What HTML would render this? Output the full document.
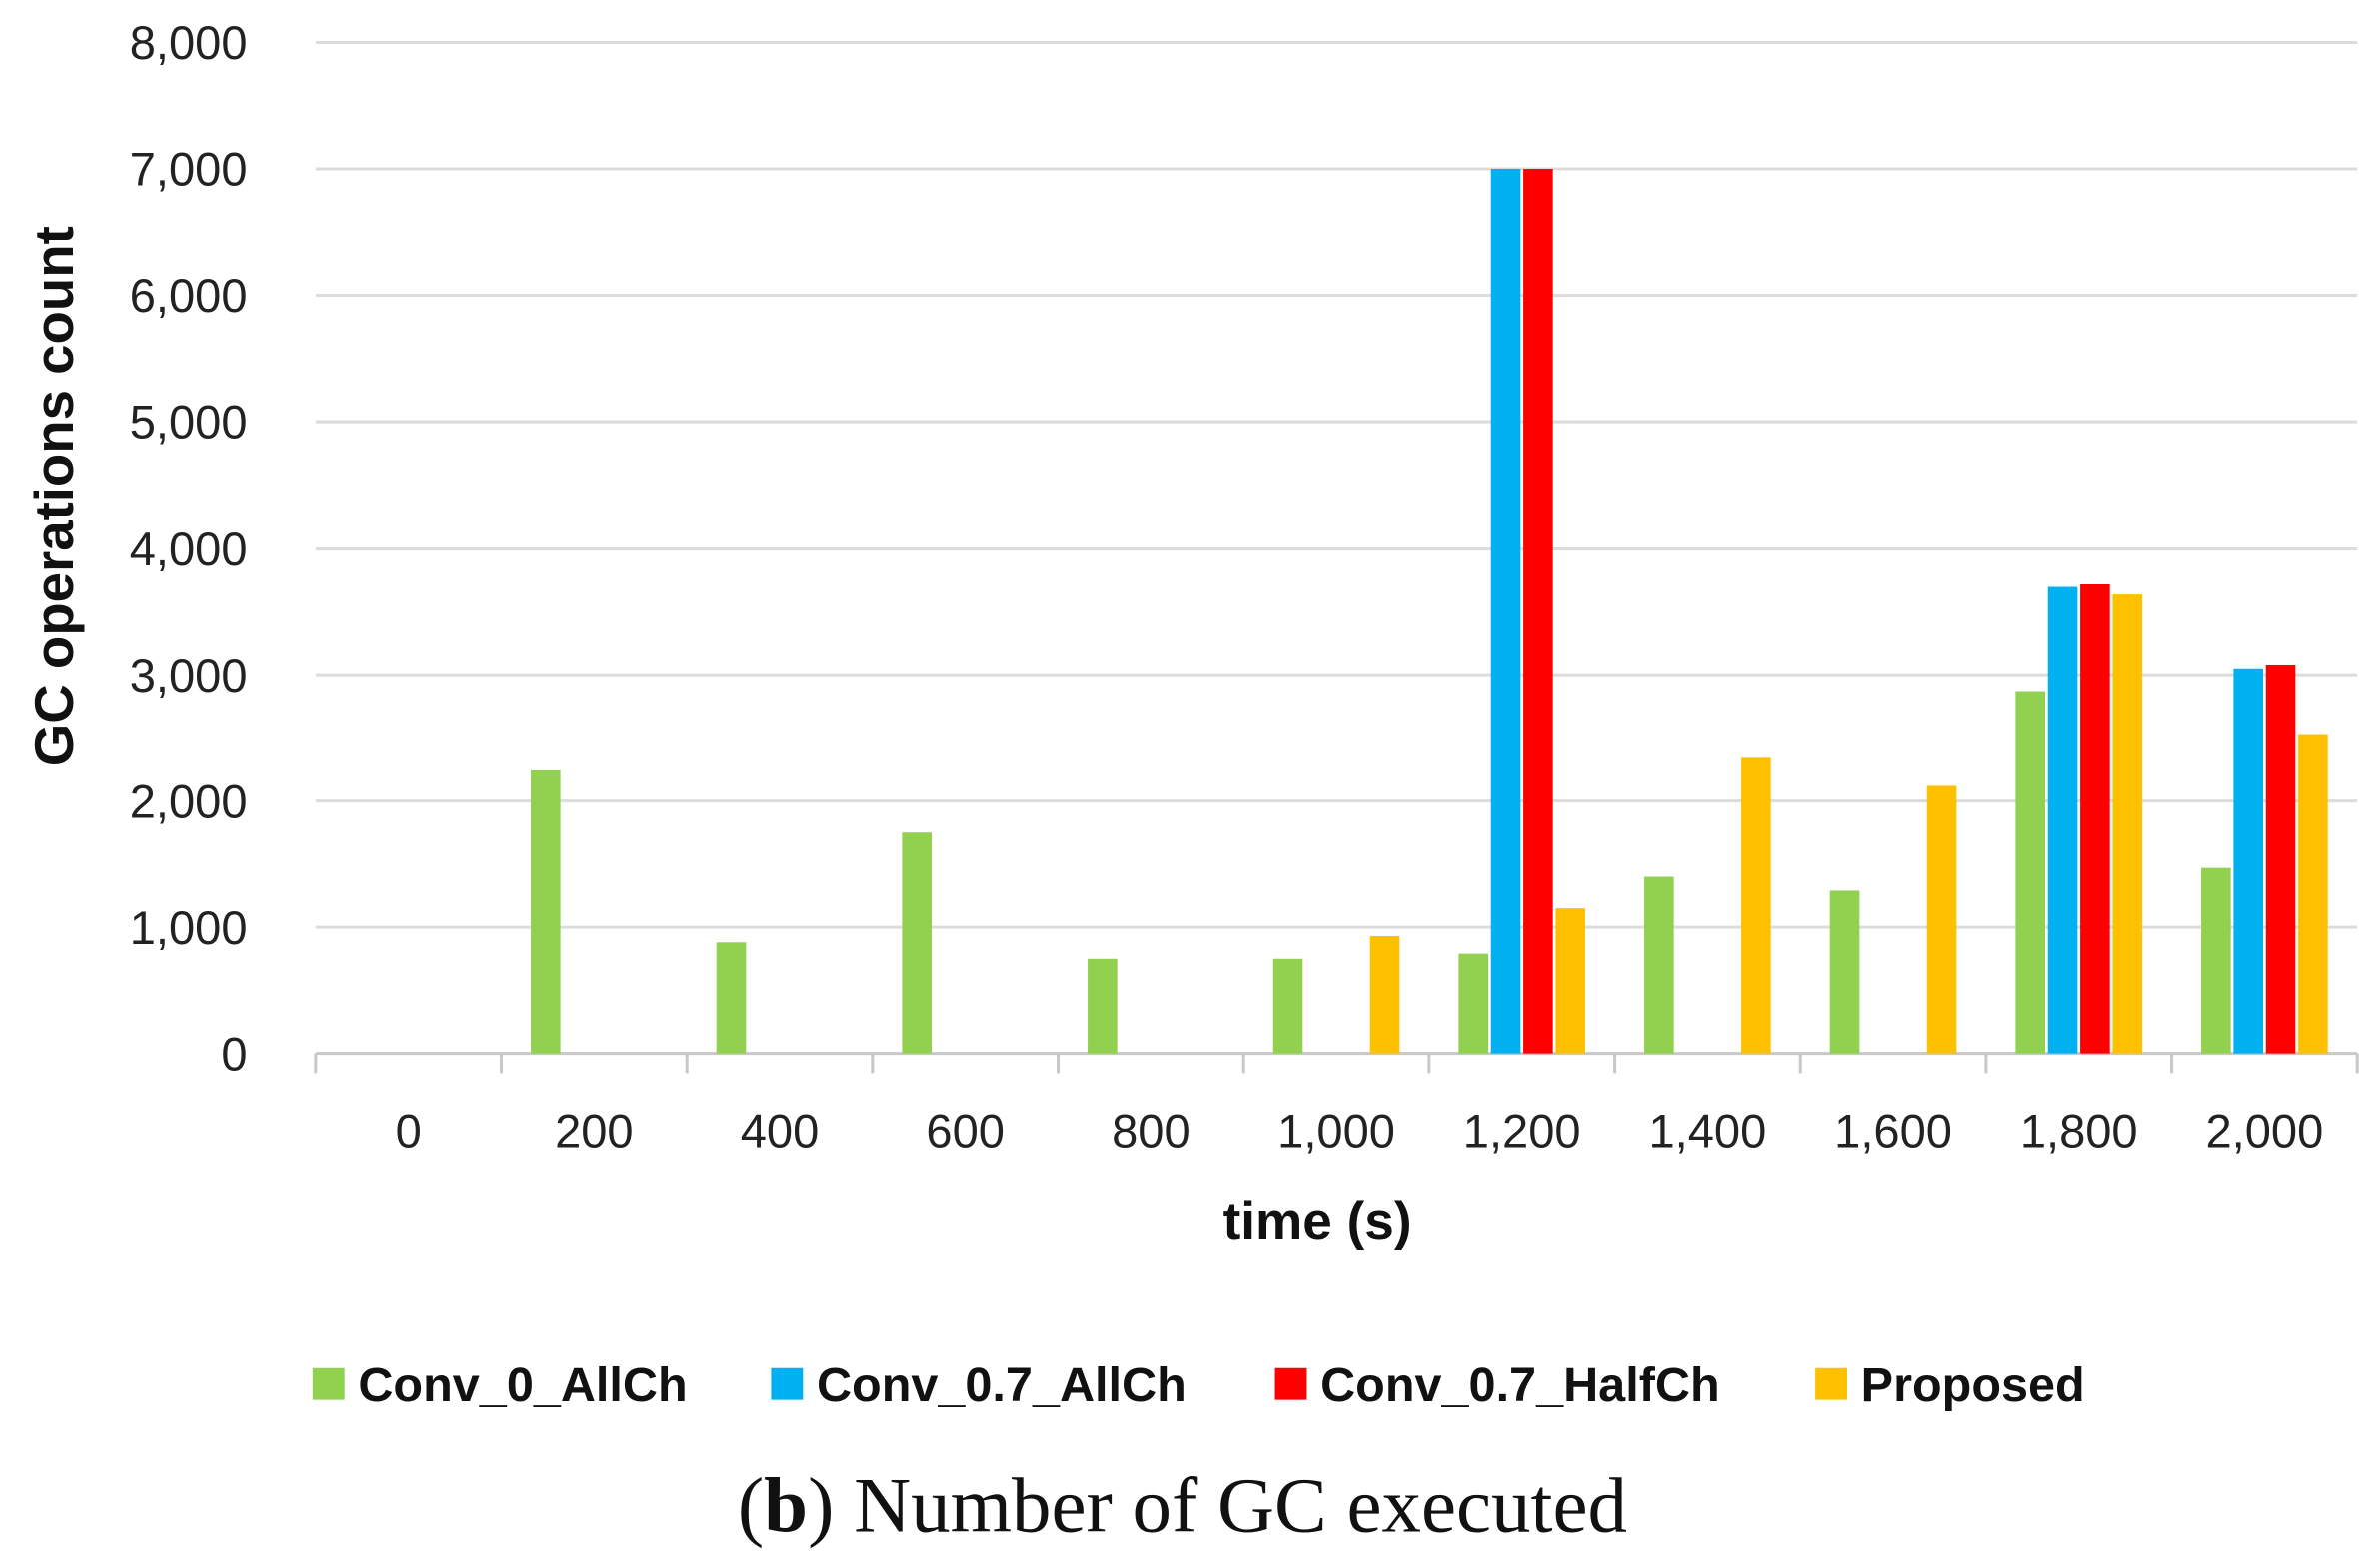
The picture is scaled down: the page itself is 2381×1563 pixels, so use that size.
<!DOCTYPE html>
<html><head><meta charset="utf-8"><style>
html,body{margin:0;padding:0;background:#fff;}
svg{display:block;}
.t{font-family:"Liberation Sans",sans-serif;fill:#222;}
.n{font-family:"Liberation Sans Narrow","Liberation Sans",sans-serif;font-weight:bold;fill:#111;}
</style></head><body>
<svg id="chart" width="2381" height="1563" viewBox="0 0 1568 1030" preserveAspectRatio="none">
<g id="grid"></g><g id="bars"></g><g id="axes"></g>
<text class="n" x="0" y="0" font-size="36" text-anchor="middle" transform="translate(48,327) rotate(-90)">GC operations count</text>
<text class="n" x="868" y="817" font-size="35" text-anchor="middle">time (s)</text>
<g>
<g><rect x="206" y="902" width="21" height="21" fill="#92d050"/><text class="n" x="236" y="924" font-size="32">Conv_0_AllCh</text></g>
<g><rect x="508" y="902" width="21" height="21" fill="#00b0f0"/><text class="n" x="538" y="924" font-size="32">Conv_0.7_AllCh</text></g>
<g><rect x="840" y="902" width="21" height="21" fill="#ff0000"/><text class="n" x="870" y="924" font-size="32">Conv_0.7_HalfCh</text></g>
<g><rect x="1196" y="902" width="21" height="21" fill="#ffc000"/><text class="n" x="1226" y="924" font-size="32">Proposed</text></g>
</g>
<text x="779" y="1010" font-size="52" text-anchor="middle" font-family="Liberation Serif,serif" fill="#111">(<tspan font-weight="bold">b</tspan>) Number of GC executed</text>
</svg>
<script>
const categories = [0,200,400,600,800,1000,1200,1400,1600,1800,2000];
const conv0AllCh   = [0,2250,880,1750,750,750,790,1400,1290,2870,1470];
const conv07AllCh  = [0,0,0,0,0,0,7000,0,0,3700,3050];
const conv07HalfCh = [0,0,0,0,0,0,7000,0,0,3720,3080];
const proposed     = [0,0,0,0,0,930,1150,2350,2120,3640,2530];
const yTicks = [0,1000,2000,3000,4000,5000,6000,7000,8000];
const seriesNames = ['conv-0-allch','conv-07-allch','conv-07-halfch','proposed'];
const seriesColors = ['#92d050','#00b0f0','#ff0000','#ffc000'];
const NS='http://www.w3.org/2000/svg';
const X0=208,X1=1553,Y0=695,Y8=28,YMAX=8000;
const bw=(X1-X0)/categories.length;
const y=v=>Y0-(v/YMAX)*(Y0-Y8);
const xc=i=>X0+bw*(i+0.5);
function mk(tag,attrs,parent){const e=document.createElementNS(NS,tag);for(const k in attrs)e.setAttribute(k,attrs[k]);parent.appendChild(e);return e;}
const grid=document.getElementById('grid'),axes=document.getElementById('axes'),bars=document.getElementById('bars');
yTicks.forEach(v=>{
  const l=mk('line',{x1:X0,x2:X1,y1:y(v),y2:y(v),stroke:v===0?'#c8c8c8':'#dcdcdc','stroke-width':2},grid);
  
  
  const t=mk('text',{x:163,y:y(v)+11,'font-size':31,'text-anchor':'end',class:'t'},axes);
  t.textContent=v.toLocaleString('en-US');
  
  
});
for(let i=0;i<=categories.length;i++){
  const tk=mk('line',{x1:X0+bw*i,x2:X0+bw*i,y1:Y0,y2:Y0+13,stroke:'#c8c8c8','stroke-width':2},axes);
  
  
}
categories.forEach((c,i)=>{
  const t=mk('text',{x:xc(i),y:757,'font-size':31,'text-anchor':'middle',class:'t'},axes);
  t.textContent=c.toLocaleString('en-US');
  
  
});
const all=[conv0AllCh,conv07AllCh,conv07HalfCh,proposed];
const slot=21.3,barW=19.5;
all.forEach((arr,s)=>{
  arr.forEach((v,i)=>{
    if(v<=0)return;
    const x=xc(i)+(s-1.5)*slot-barW/2;
    const r=mk('rect',{x:x,y:y(v),width:barW,height:Y0-y(v),fill:seriesColors[s]},bars);
    
    
  });
});
</script>
</body></html>
